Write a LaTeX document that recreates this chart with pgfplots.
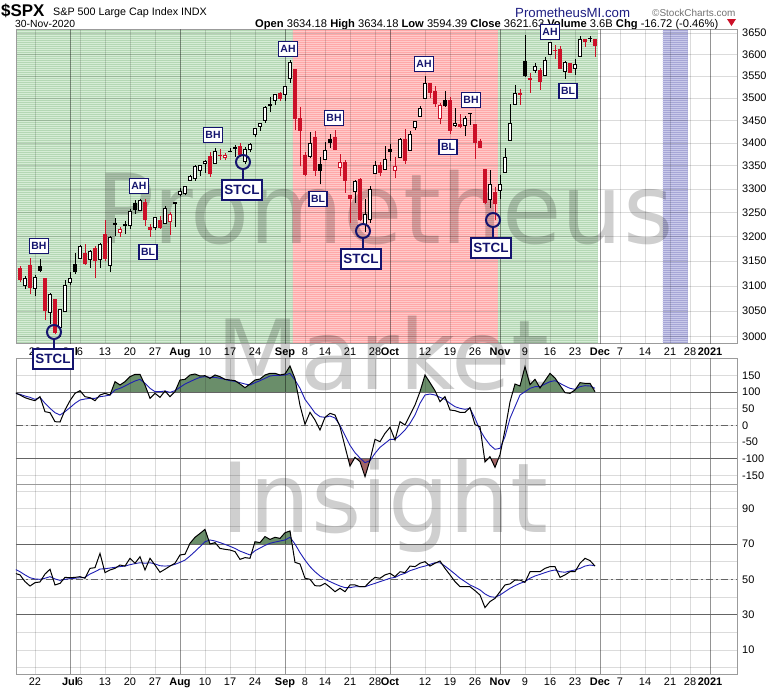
\documentclass[border=0pt]{standalone}
\usepackage{pgfplots}
\pgfplotsset{compat=1.18}
\usepackage{pgfplotstable}
\usetikzlibrary{patterns.meta}
\usepackage{fontspec}
\setmainfont{Liberation Sans}
\newfontfamily\wmfont{DejaVu Sans}
\newcommand\setfs[1]{\fontsize{#1}{#1}\selectfont}
\definecolor{navy}{RGB}{20,20,110}
\definecolor{bggreen}{RGB}{180,215,180}
\definecolor{bggreenl}{RGB}{214,236,214}
\definecolor{bgred}{RGB}{255,168,168}
\definecolor{bgredl}{RGB}{255,202,202}
\definecolor{bgblue}{RGB}{166,166,214}
\definecolor{bgbluel}{RGB}{202,202,234}
\definecolor{cred}{RGB}{204,16,40}
\definecolor{fgreen}{RGB}{106,142,106}
\definecolor{fred}{RGB}{162,102,102}
\definecolor{sblue}{RGB}{30,30,180}
\definecolor{frame}{RGB}{155,155,155}
\definecolor{lvl}{RGB}{100,100,100}
\definecolor{webnavy}{RGB}{30,30,130}

\pgfplotstableread{
i O H L C t
-3 3136.13 3141.16 3108.03 3113.49 3
-2 3101.64 3120.00 3093.51 3115.34 0
-1 3140.29 3155.53 3083.11 3097.74 3
0 3094.42 3120.92 3079.39 3117.86 0
1 3138.70 3154.90 3127.12 3131.29 2
2 3114.40 3115.01 3032.13 3050.33 3
3 3046.60 3086.25 3024.01 3083.76 0
4 3073.20 3073.73 3004.63 3009.05 3
5 3018.59 3053.89 2999.74 3053.24 0
6 3050.20 3111.51 3047.83 3100.29 0
7 3105.92 3128.44 3101.17 3115.86 0
8 3143.64 3165.81 3124.52 3130.01 2
9 3155.29 3182.59 3155.29 3179.72 0
10 3166.44 3184.15 3142.93 3145.32 3
11 3153.07 3171.80 3136.53 3169.94 0
12 3176.17 3179.78 3115.70 3152.05 3
13 3152.47 3186.82 3136.22 3185.04 0
14 3205.08 3235.32 3149.43 3155.22 3
15 3141.11 3200.95 3127.66 3197.52 0
16 3225.98 3238.28 3200.76 3226.56 0
17 3208.36 3220.39 3198.59 3215.57 1
18 3224.21 3233.52 3205.65 3224.73 0
19 3224.29 3258.61 3215.16 3251.84 0
20 3268.52 3277.29 3247.77 3257.30 2
21 3254.86 3279.32 3253.10 3276.02 0
22 3271.64 3279.99 3222.66 3235.66 3
23 3218.58 3227.26 3200.05 3215.63 3
24 3219.84 3241.43 3214.25 3239.41 0
25 3234.27 3243.72 3216.17 3218.44 3
26 3227.22 3264.74 3227.22 3258.44 0
27 3231.76 3250.92 3204.13 3246.22 1
28 3270.45 3272.17 3220.26 3271.12 0
29 3288.26 3302.73 3284.53 3294.61 0
30 3289.92 3306.84 3286.37 3306.51 0
31 3317.37 3330.77 3317.37 3327.77 0
32 3323.17 3351.03 3318.14 3349.16 0
33 3340.05 3352.54 3328.72 3351.28 0
34 3356.04 3363.29 3335.44 3360.47 0
35 3370.34 3381.01 3326.44 3333.69 3
36 3355.46 3387.89 3355.46 3380.35 0
37 3372.95 3387.24 3363.35 3373.43 1
38 3368.66 3378.51 3361.64 3372.85 1
39 3380.86 3387.59 3379.22 3381.99 0
40 3387.04 3395.06 3370.15 3389.78 0
41 3392.51 3399.54 3369.66 3374.85 3
42 3360.48 3390.80 3354.69 3385.51 0
43 3386.01 3399.96 3379.31 3397.16 0
44 3418.09 3432.09 3413.13 3431.28 0
45 3435.95 3444.21 3425.84 3443.62 0
46 3449.97 3481.07 3444.15 3478.73 0
47 3485.14 3501.38 3468.35 3484.55 2
48 3494.69 3509.23 3484.32 3508.01 0
49 3509.73 3514.77 3493.25 3500.31 3
50 3507.44 3528.03 3494.60 3526.65 0
51 3543.76 3588.11 3535.23 3580.84 0
52 3564.74 3564.85 3427.41 3455.06 3
53 3453.60 3479.15 3349.63 3426.96 3
54 3371.88 3379.97 3329.27 3331.84 3
55 3369.82 3424.77 3366.84 3398.96 0
56 3412.56 3425.55 3329.25 3339.19 3
57 3352.70 3368.95 3310.47 3340.97 2
58 3363.56 3402.93 3363.56 3383.54 0
59 3407.73 3419.48 3389.25 3401.20 2
60 3411.23 3428.92 3384.45 3385.49 3
61 3346.86 3375.17 3328.82 3357.01 1
62 3357.38 3362.27 3292.40 3319.47 3
63 3285.57 3285.57 3229.10 3281.06 3
64 3295.75 3320.31 3270.95 3315.57 0
65 3320.11 3323.35 3232.57 3236.92 3
66 3226.14 3278.70 3209.45 3246.59 0
67 3236.66 3306.88 3228.44 3298.46 0
68 3333.90 3360.74 3332.91 3351.60 0
69 3350.92 3357.92 3327.54 3335.47 3
70 3341.21 3393.56 3340.47 3363.00 0
71 3385.87 3397.18 3361.39 3380.80 2
72 3338.94 3369.10 3323.69 3348.42 1
73 3367.27 3409.57 3367.27 3408.60 0
74 3408.74 3431.56 3354.54 3360.97 3
75 3384.56 3426.26 3384.56 3419.44 0
76 3434.28 3447.28 3428.15 3446.83 0
77 3459.67 3482.34 3458.07 3477.14 0
78 3500.02 3549.85 3499.61 3534.22 0
79 3534.01 3534.01 3500.86 3511.93 3
80 3515.47 3527.94 3480.55 3488.67 3
81 3453.72 3489.08 3440.89 3483.34 1
82 3493.50 3515.76 3480.45 3483.81 2
83 3493.66 3502.42 3419.93 3426.92 3
84 3439.38 3476.93 3435.65 3443.12 0
85 3439.91 3464.86 3433.06 3435.56 3
86 3438.50 3460.53 3415.34 3453.49 0
87 3464.90 3466.46 3440.45 3465.39 0
88 3441.42 3441.42 3364.86 3400.97 3
89 3403.15 3409.51 3388.71 3390.68 3
90 3342.48 3342.48 3268.89 3271.03 3
91 3277.17 3341.05 3259.82 3310.11 0
92 3293.59 3304.93 3233.94 3269.96 3
93 3296.20 3330.14 3279.74 3310.24 0
94 3336.25 3389.49 3336.25 3369.16 0
95 3406.46 3486.25 3405.17 3443.44 0
96 3485.74 3529.05 3485.74 3510.45 0
97 3508.34 3521.58 3484.34 3509.44 1
98 3583.04 3645.99 3547.48 3550.50 2
99 3543.26 3557.22 3511.91 3545.53 1
100 3563.22 3581.16 3557.00 3572.66 0
101 3562.67 3569.02 3518.58 3537.01 3
102 3552.57 3593.66 3552.57 3585.15 0
103 3600.16 3628.51 3600.16 3626.91 0
104 3610.31 3623.11 3588.68 3609.53 3
105 3612.09 3619.09 3567.33 3567.79 3
106 3559.41 3585.22 3543.84 3581.87 0
107 3579.31 3581.23 3556.85 3557.54 3
108 3566.82 3589.81 3552.77 3577.59 0
109 3594.52 3642.31 3594.52 3635.41 0
110 3635.50 3635.50 3617.76 3629.65 3
111 3638.55 3644.31 3629.33 3638.35 2
112 3634.18 3634.18 3594.39 3621.63 3
}\ohlc

\pgfplotstableread{
i b s
-4 98 96
-3 91 93
-2 83 88
-1 78 84
0 74 78
1 86 84
2 41 66
3 38 51
4 11 38
5 10 31
6 46 41
7 74 53
8 96 66
9 104 76
10 86 79
11 83 81
12 74 81
13 91 86
14 96 88
15 91 91
16 131 106
17 121 111
18 131 118
19 146 126
20 153 133
21 153 138
22 121 126
23 81 111
24 96 101
25 84 101
26 103 103
27 86 99
28 101 104
29 136 114
30 138 124
31 151 131
32 154 138
33 148 144
34 149 146
35 141 144
36 151 144
37 146 141
38 138 138
39 136 134
40 134 132
41 124 128
42 113 124
43 124 121
44 136 128
45 139 134
46 151 141
47 156 148
48 156 150
49 151 150
50 154 151
51 178 156
52 140 136
53 60 111
54 3 78
55 39 58
56 16 37
57 -14 26
58 24 24
59 36 28
60 31 22
61 -4 0
62 -64 -30
63 -122 -60
64 -96 -82
65 -109 -98
66 -154 -112
67 -104 -106
68 -42 -84
69 -49 -66
70 -24 -54
71 -6 -42
72 -44 -42
73 11 -29
74 1 -14
75 31 6
76 61 31
77 101 66
78 151 91
79 128 94
80 104 91
81 71 84
82 86 78
83 46 66
84 44 56
85 39 51
86 39 48
87 53 51
88 2 21
89 -4 -14
90 -110 -39
91 -94 -59
92 -126 -72
93 -88 -69
94 -14 -34
95 70 21
96 124 56
97 118 91
98 176 101
99 122 111
100 138 116
101 112 116
102 134 124
103 156 131
104 142 134
105 120 126
106 98 118
107 96 111
108 106 108
109 128 116
110 126 119
111 126 118
112 101 111
}\cci

\pgfplotstableread{
i r s
-4 53.4 55.7
-3 52.5 54.3
-2 48.7 52.5
-1 46.2 50.9
0 48.1 50.2
1 48.5 50.0
2 53.0 50.6
3 55.7 51.5
4 46.8 50.2
5 47.7 49.4
6 51.1 50.0
7 50.9 50.4
8 51.1 50.6
9 51.5 50.9
10 50.6 51.1
11 56.2 53.0
12 56.6 54.3
13 64.7 55.8
14 53.8 56.0
15 55.3 56.4
16 56.2 56.8
17 58.1 57.2
18 57.5 57.5
19 61.9 58.3
20 59.1 58.9
21 62.8 59.4
22 55.3 59.1
23 61.9 59.4
24 58.1 58.7
25 54.0 57.7
26 55.7 57.5
27 57.5 57.7
28 59.1 58.5
29 63.8 59.6
30 64.2 60.9
31 70.4 63.2
32 73.8 65.8
33 76.0 68.5
34 78.3 71.3
35 70.0 72.3
36 70.8 71.7
37 67.5 70.8
38 67.0 69.8
39 66.6 68.7
40 65.7 67.5
41 61.3 66.0
42 62.3 64.9
43 61.9 63.8
44 71.3 66.2
45 70.8 67.7
46 74.2 69.2
47 72.6 70.4
48 73.8 71.1
49 73.2 71.7
50 76.4 72.3
51 77.4 73.8
52 59.6 70.0
53 58.7 65.1
54 50.6 60.9
55 50.0 57.2
56 46.4 54.3
57 46.2 51.9
58 47.7 50.0
59 45.5 48.7
60 43.0 47.4
61 44.9 46.2
62 43.0 45.3
63 46.8 45.3
64 46.8 45.8
65 45.8 45.8
66 45.8 45.8
67 48.7 46.8
68 51.1 47.7
69 50.6 48.7
70 52.5 49.6
71 53.4 50.6
72 51.5 51.1
73 54.3 52.5
74 53.8 53.4
75 57.5 54.9
76 57.2 55.8
77 59.1 56.8
78 60.0 57.5
79 57.5 58.5
80 59.1 59.4
81 60.4 59.4
82 56.2 57.5
83 52.5 55.3
84 48.7 53.0
85 45.8 50.6
86 45.8 48.7
87 45.8 46.8
88 43.6 45.5
89 41.1 44.0
90 34.0 41.7
91 37.4 40.2
92 39.2 39.8
93 43.0 41.1
94 46.8 43.0
95 47.4 44.9
96 49.6 46.4
97 49.6 47.7
98 48.3 48.7
99 54.3 50.6
100 54.3 51.9
101 54.3 52.8
102 56.2 53.8
103 57.2 54.7
104 57.2 55.3
105 51.1 54.3
106 52.5 54.0
107 54.3 54.7
108 54.3 55.3
109 59.1 56.2
110 61.9 57.5
111 60.6 58.1
112 57.5 57.7
}\rsi

\tikzset{
  w0/.style={black, line width=1bp}, b0/.style={draw=black, fill=white, line width=0.9bp},
  w1/.style={cred, line width=1bp},  b1/.style={draw=cred, fill=white, line width=0.9bp},
  w2/.style={black, line width=1bp}, b2/.style={draw=black, fill=black, line width=0.9bp},
  w3/.style={cred, line width=1bp},  b3/.style={draw=cred, fill=cred, line width=0.9bp},
  lab/.style={draw=navy, line width=1.6bp, fill=white, text=navy, font=\bfseries\setfs{10.5},
    inner sep=1.8bp, minimum height=15bp},
  stcl/.style={lab, font=\bfseries\setfs{13.5}, inner sep=2.2bp, minimum height=20bp, minimum width=40bp},
  ring/.style={navy, line width=2bp},
  stripes/.style={pattern={Lines[angle=0,distance=2bp,line width=1bp]}, pattern color=#1},
}

\pgfplotsset{
 panel/.style={
  scale only axis, width=721bp, xmin=-3.8, xmax=140.4, anchor=south west,
  axis line style={draw=frame, line width=0.8bp},
  major tick length=0pt, minor tick length=0pt,
  xtick={0,7,9,14,19,24,29,34,39,44,50,54,58,63,68,71,78,83,88,93,98,103,108,113,117,122,127,131,135},
  xmajorgrids, ymajorgrids,
  major grid style={black, opacity=0.14, line width=0.6bp},
  minor grid style={black, opacity=0.14, line width=0.6bp},
  extra x ticks={7,29,50,71,93,113,135},
  extra x tick labels={},
  extra x tick style={major grid style={black, opacity=0.32, line width=0.7bp}},
  yticklabel pos=right,
  yticklabel style={anchor=west, inner sep=0pt, xshift=5bp, font=\setfs{11}},
  xticklabel style={anchor=base, inner sep=0pt, font=\setfs{11}},
 },
 overlay/.style={scale only axis, width=721bp, xmin=-3.8, xmax=140.4, anchor=south west, hide axis},
}

\begin{document}
\begin{tikzpicture}
\fill[white] (0bp,0bp) rectangle (780bp,-690bp);
\useasboundingbox (0bp,0bp) rectangle (780bp,-690bp);

% build candle commands
\pgfplotstablegetrowsof{\ohlc}%
\pgfmathtruncatemacro\nlast{\pgfplotsretval-1}%
\gdef\candles{}%
\foreach \r in {0,...,\nlast}{%
  \pgfplotstablegetelem{\r}{i}\of\ohlc\let\ci\pgfplotsretval
  \pgfplotstablegetelem{\r}{O}\of\ohlc\let\co\pgfplotsretval
  \pgfplotstablegetelem{\r}{H}\of\ohlc\let\chh\pgfplotsretval
  \pgfplotstablegetelem{\r}{L}\of\ohlc\let\cl\pgfplotsretval
  \pgfplotstablegetelem{\r}{C}\of\ohlc\let\cc\pgfplotsretval
  \pgfplotstablegetelem{\r}{t}\of\ohlc\let\ct\pgfplotsretval
  \pgfmathsetmacro\xa{\ci-0.38}%
  \pgfmathsetmacro\xb{\ci+0.38}%
  \xdef\candles{\unexpanded\expandafter{\candles}%
    \noexpand\addplot[w\ct] coordinates {(\ci,\cl) (\ci,\chh)};%
    \noexpand\addplot[b\ct] coordinates {(\xa,\co) (\xb,\co) (\xb,\cc) (\xa,\cc)} -- cycle;}%
}%

% header
\node[anchor=base west, inner sep=0pt, font=\bfseries\setfs{17}] at (1bp,-16bp) {\$SPX};
\node[anchor=base west, inner sep=0pt, font=\setfs{10.8}] at (53bp,-15bp) {S\&P 500 Large Cap Index INDX};
\node[anchor=base west, inner sep=0pt, font=\setfs{10.4}] at (15bp,-27bp) {30-Nov-2020};
\node[anchor=base west, inner sep=0pt, font=\setfs{11.2}] at (255bp,-27bp) {\textbf{Open} 3634.18 \textbf{High} 3634.18 \textbf{Low} 3594.39 \textbf{Close} 3621.63 \textbf{Volume} 3.6B \textbf{Chg} -16.72 (-0.46\%)};
\fill[cred] (727bp,-19bp) -- (736bp,-19bp) -- (731.5bp,-26bp) -- cycle;
\node[anchor=base west, inner sep=0pt, font=\setfs{13.3}, text=webnavy] at (515bp,-17bp) {PrometheusMI.com};
\node[anchor=base west, inner sep=0pt, font=\setfs{10}, text=black!55] at (652bp,-16bp) {©StockCharts.com};

% background regions (striped)
\begin{axis}[overlay, height=314.5bp, at={(16bp,-344bp)}, ymin=0, ymax=1]
\addplot[fill=bggreen, draw=none] coordinates {(-3.8,1) (51.5,1)} \closedcycle;
\addplot[fill=bgred, draw=none] coordinates {(51.5,1) (92.5,1)} \closedcycle;
\addplot[fill=bggreen, draw=none] coordinates {(92.5,1) (112.5,1)} \closedcycle;
\addplot[fill=bgblue, draw=none] coordinates {(125.5,1) (130.5,1)} \closedcycle;
\addplot[stripes=bggreenl, draw=none] coordinates {(-3.8,1) (51.5,1)} \closedcycle;
\addplot[stripes=bgredl, draw=none] coordinates {(51.5,1) (92.5,1)} \closedcycle;
\addplot[stripes=bggreenl, draw=none] coordinates {(92.5,1) (112.5,1)} \closedcycle;
\addplot[stripes=bgbluel, draw=none] coordinates {(125.5,1) (130.5,1)} \closedcycle;
\end{axis}

% watermark
\begin{scope}[every node/.style={inner sep=0pt, anchor=base, text=black, text opacity=0.19, font=\wmfont\setfs{97}}]
\node at (385bp,-243bp) {Prometheus};
\node at (383bp,-389bp) {Market};
\node at (385bp,-532bp) {Insight};
\end{scope}

% price panel
\begin{axis}[panel, at={(16bp,-344bp)}, height=314.5bp, ymode=log, ymin=2986, ymax=3659,
  ytick={3000,3050,3100,3150,3200,3250,3300,3350,3400,3450,3500,3550,3600,3650},
  yticklabels={3000,3050,3100,3150,3200,3250,3300,3350,3400,3450,3500,3550,3600,3650},
  xticklabels={22,\textbf{Jul},6,13,20,27,\textbf{Aug},10,17,24,\textbf{Sep},8,14,21,28,\textbf{Oct},12,19,26,\textbf{Nov},9,16,23,\textbf{Dec},7,14,21,28,\textbf{2021}},
  xticklabel style={yshift=-12bp}]
\candles
\end{axis}

% CCI fills (clipped by overlay axes)
\begin{axis}[overlay, at={(16bp,-392bp)}, height=34bp, ymin=100, ymax=202]
\addplot[fill=fgreen, draw=none] table[x=i,y=b]{\cci} -- (axis cs:112,0) -- (axis cs:-4,0) -- cycle;
\end{axis}
\begin{axis}[overlay, at={(16bp,-484bp)}, height=25.333bp, ymin=-176, ymax=-100]
\addplot[fill=fred, draw=none] table[x=i,y=b]{\cci} -- (axis cs:112,0) -- (axis cs:-4,0) -- cycle;
\end{axis}

% CCI panel
\begin{axis}[panel, at={(16bp,-484bp)}, height=126bp, ymin=-176, ymax=202,
  ytick={-150,-100,-50,0,50,100,150}, yticklabels={-150,-100,-50,0,50,100,150},
  xticklabels={}]
\draw[lvl, line width=0.9bp] (axis cs:-3.8,100) -- (axis cs:140.4,100);
\draw[lvl, line width=0.9bp] (axis cs:-3.8,-100) -- (axis cs:140.4,-100);
\draw[lvl, line width=0.8bp, dash pattern=on 7bp off 3bp on 2bp off 3bp] (axis cs:-3.8,0) -- (axis cs:140.4,0);
\addplot[sblue, line width=0.9bp] table[x=i,y=s]{\cci};
\addplot[black, line width=1bp] table[x=i,y=b]{\cci};
\end{axis}

% RSI fill
\begin{axis}[overlay, at={(16bp,-544.01bp)}, height=60bp, ymin=70, ymax=104]
\addplot[fill=fgreen, draw=none] table[x=i,y=r]{\rsi} -- (axis cs:112,0) -- (axis cs:-4,0) -- cycle;
\end{axis}

% RSI panel
\begin{axis}[panel, at={(16bp,-674bp)}, height=190bp, ymin=-3.65, ymax=104,
  ytick={10,30,50,70,90}, yticklabels={10,30,50,70,90},
  minor ytick={0,20,40,60,80,100}, yminorgrids,
  xticklabels={22,\textbf{Jul},6,13,20,27,\textbf{Aug},10,17,24,\textbf{Sep},8,14,21,28,\textbf{Oct},12,19,26,\textbf{Nov},9,16,23,\textbf{Dec},7,14,21,28,\textbf{2021}},
  xticklabel style={yshift=-11bp}]
\draw[lvl, line width=0.9bp] (axis cs:-3.8,70) -- (axis cs:140.4,70);
\draw[lvl, line width=0.9bp] (axis cs:-3.8,30) -- (axis cs:140.4,30);
\draw[lvl, line width=0.8bp, dash pattern=on 7bp off 3bp on 2bp off 3bp] (axis cs:-3.8,50) -- (axis cs:140.4,50);
\addplot[sblue, line width=0.9bp] table[x=i,y=s]{\rsi};
\addplot[black, line width=1bp] table[x=i,y=r]{\rsi};
\end{axis}

% annotations
\node[lab] at (39bp,-246bp) {BH};
\node[lab] at (139bp,-186bp) {AH};
\node[lab] at (148bp,-252bp) {BL};
\node[lab] at (213bp,-135bp) {BH};
\node[lab] at (288bp,-49bp) {AH};
\node[lab] at (334bp,-118bp) {BH};
\node[lab] at (318bp,-199bp) {BL};
\node[lab] at (424bp,-64bp) {AH};
\node[lab] at (471bp,-100bp) {BH};
\node[lab] at (448bp,-147bp) {BL};
\node[lab] at (550bp,-32bp) {AH};
\node[lab] at (568bp,-91bp) {BL};
\draw[ring] (54bp,-332bp) circle[radius=7bp];
\draw[ring] (54bp,-339bp) -- (54bp,-350bp);
\node[stcl] at (53bp,-359bp) {STCL};
\draw[ring] (243bp,-162bp) circle[radius=7bp];
\draw[ring] (243bp,-169bp) -- (243bp,-181bp);
\node[stcl] at (242bp,-190bp) {STCL};
\draw[ring] (363bp,-231bp) circle[radius=7bp];
\draw[ring] (363bp,-238bp) -- (363bp,-250bp);
\node[stcl] at (361bp,-259bp) {STCL};
\draw[ring] (493bp,-220bp) circle[radius=7bp];
\draw[ring] (493bp,-227bp) -- (493bp,-239bp);
\node[stcl] at (491bp,-248bp) {STCL};
\end{tikzpicture}
\end{document}
